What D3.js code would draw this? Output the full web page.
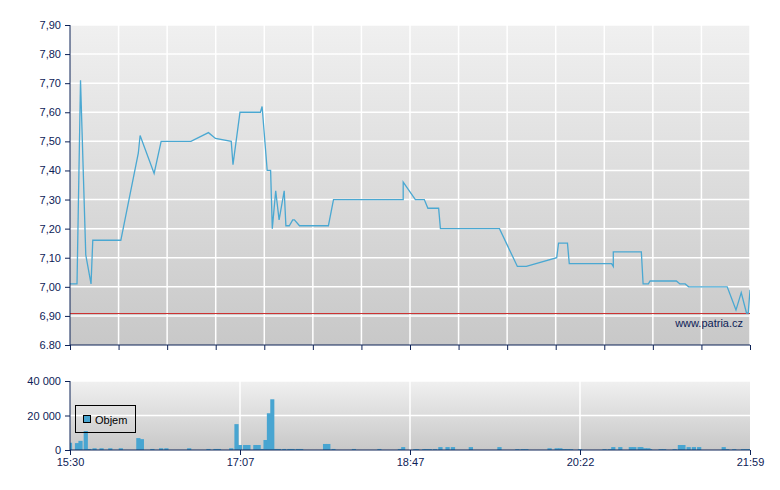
<!DOCTYPE html>
<html>
<head>
<meta charset="utf-8">
<script src="https://cdn.jsdelivr.net/npm/d3@7"></script>
<style>
  body { margin: 0; background: #fff; }
  text { font-family: "Liberation Sans", Arial, sans-serif; }
</style>
</head>
<body>
<div id="chart"></div>
<script>
// price series (time, price)
const priceTimes = ["15:30","15:34","15:36","15:39","15:42","15:43","15:59","16:09","16:10","16:18",
  "16:22","16:39","16:49","16:53","17:02","17:03","17:07","17:19","17:20","17:23",
  "17:25","17:26","17:28","17:30","17:33","17:34","17:36","17:38","17:39","17:42",
  "17:59","18:02","18:43","18:43","18:50","18:55","18:57","19:03","19:04","19:37",
  "19:47","19:52","20:09","20:10","20:15","20:16","20:40","20:41","20:41","20:57",
  "20:58","21:01","21:02","21:17","21:19","21:22","21:24","21:46","21:51","21:54",
  "21:57","21:58","21:59"];
const priceValues = [7.01,7.01,7.71,7.11,7.01,7.16,7.16,7.46,7.52,7.39,
  7.50,7.50,7.53,7.51,7.50,7.42,7.60,7.60,7.62,7.40,
  7.40,7.20,7.33,7.23,7.33,7.21,7.21,7.23,7.23,7.21,
  7.21,7.30,7.30,7.36,7.30,7.30,7.27,7.27,7.20,7.20,
  7.07,7.07,7.10,7.15,7.15,7.08,7.08,7.07,7.12,7.12,
  7.01,7.01,7.02,7.02,7.01,7.01,7.00,7.00,6.92,6.98,
  6.91,6.91,6.99];
const refPrice = 6.91;

// volume series (time, shares)
const volTimes = ["15:30","15:34","15:36","15:39","15:41","15:44","15:48","15:53","15:59","16:09",
  "16:11","16:17","16:22","16:25","16:38","16:49","16:53","16:55","17:02","17:05",
  "17:07","17:10","17:12","17:16","17:18","17:20","17:22","17:24","17:26","17:28",
  "17:30","17:33","17:36","17:38","17:41","17:43","17:57","17:59","18:02","18:14",
  "18:29","18:41","18:43","18:50","18:51","18:55","18:56","18:58","19:01","19:04",
  "19:08","19:11","19:21","19:37","19:47","19:50","19:52","20:05","20:09","20:11",
  "20:13","20:15","20:17","20:22","20:36","20:39","20:41","20:45","20:51","20:53",
  "20:56","20:57","20:59","21:01","21:02","21:08","21:10","21:16","21:19","21:21",
  "21:24","21:27","21:30","21:44","21:46","21:50","21:55","21:57","21:59"];
const volValues = [4200,4000,5300,11000,600,1000,1000,1000,1000,6900,
  6300,600,1000,1000,1000,600,600,600,1000,15000,
  2900,2900,2900,2900,2900,600,5800,21300,29400,600,
  600,600,600,600,600,600,3500,3500,600,600,
  600,600,1700,500,500,500,500,500,500,1700,
  1700,1700,1700,1700,500,500,500,1000,1000,1000,
  500,500,500,500,500,500,1700,1700,1700,1700,
  1700,1700,1000,1000,500,500,500,500,2900,2900,
  1700,1700,1700,1700,500,500,500,500,500];

const timeTicks = ["15:30","17:07","18:47","20:22","21:59"];
const priceTicks = [6.8,6.9,7.0,7.1,7.2,7.3,7.4,7.5,7.6,7.7,7.8,7.9];
const priceTickLabels = ["6.80","6,90","7,00","7,10","7,20","7,30","7,40","7,50","7,60","7,70","7,80","7,90"];
const volTicks = [0,20000,40000];
const volTickLabels = ["0","20 000","40 000"];

var W = 780, H = 490;
var left = 70, right = 750;
var pTop = 25, pBottom = 345;
var vTop = 381, vBottom = 450;
var axisColor = "#0d2257";
var barColor = "#48a5d1";

function toMin(s) {
	var p = s.split(":");
	return (+p[0] - 15) * 60 + (+p[1]) - 30;
}

var svg = d3.select("#chart").append("svg").attr("width", W).attr("height", H);

var defs = svg.append("defs");
var grad = defs.append("linearGradient").attr("id", "bg").attr("x1", 0).attr("y1", 0).attr("x2", 0).attr("y2", 1);
grad.append("stop").attr("offset", "0%").attr("stop-color", "#f0f0f0");
grad.append("stop").attr("offset", "100%").attr("stop-color", "#c8c8c8");
defs.append("clipPath").attr("id", "clipP").append("rect")
	.attr("x", left).attr("y", pTop).attr("width", right - left).attr("height", pBottom - pTop);
defs.append("clipPath").attr("id", "clipV").append("rect")
	.attr("x", left).attr("y", vTop).attr("width", right - left).attr("height", vBottom - vTop);

// time axis: labels sit at equal steps
var x = d3.scaleLinear()
	.domain(timeTicks.map(toMin))
	.range(timeTicks.map(function (d, i) { return left + i * (right - left) / (timeTicks.length - 1); }));

var y = d3.scaleLinear().domain([6.8, 7.9]).range([pBottom, pTop]);
var yv = d3.scaleLinear().domain([0, 40000]).range([vBottom, vTop]);

// price panel background + grid
svg.append("rect").attr("x", left).attr("y", pTop).attr("width", right - left).attr("height", pBottom - pTop)
	.attr("fill", "url(#bg)");

var gridX = d3.scaleLinear().domain([0, 14]).range([left, right]);
svg.append("g").selectAll("line").data(d3.range(1, 15)).enter().append("line")
	.attr("x1", function (d) { return gridX(d); }).attr("x2", function (d) { return gridX(d); })
	.attr("y1", pTop).attr("y2", pBottom)
	.attr("stroke", "#fff").attr("stroke-width", 1.5);
svg.append("g").selectAll("line").data(priceTicks.slice(1)).enter().append("line")
	.attr("x1", left).attr("x2", right)
	.attr("y1", function (d) { return y(d); }).attr("y2", function (d) { return y(d); })
	.attr("stroke", "#fff").attr("stroke-width", 1.5);

// reference line (previous close)
svg.append("line").attr("x1", left).attr("x2", right)
	.attr("y1", Math.round(y(refPrice)) + 0.5).attr("y2", Math.round(y(refPrice)) + 0.5)
	.attr("stroke", "#cc3333").attr("stroke-width", 1)
	.attr("shape-rendering", "crispEdges");

// price line
var line = d3.line()
	.x(function (d, i) { return x(toMin(priceTimes[i])); })
	.y(function (d) { return y(d); });
svg.append("path").datum(priceValues)
	.attr("clip-path", "url(#clipP)")
	.attr("d", line)
	.attr("fill", "none")
	.attr("stroke", "#4aa8d2")
	.attr("stroke-width", 1.3);

svg.append("text").attr("x", 743).attr("y", 327).attr("text-anchor", "end")
	.attr("font-size", 11).attr("fill", axisColor).text("www.patria.cz");

// price axes
var yAxis = svg.append("g").attr("transform", "translate(" + left + ",0)")
	.call(d3.axisLeft(y).tickValues(priceTicks).tickSize(5).tickPadding(4)
		.tickFormat(function (d, i) { return priceTickLabels[i]; }));
yAxis.select(".domain").attr("stroke", axisColor).attr("d", "M0," + pTop + "V" + pBottom);
yAxis.selectAll(".tick line").attr("stroke", axisColor);
yAxis.selectAll("text").attr("font-size", 11).attr("fill", axisColor).style("font-family", "Liberation Sans, Arial, sans-serif");

var xGridAxis = svg.append("g").attr("transform", "translate(0," + pBottom + ")")
	.call(d3.axisBottom(gridX).ticks(14).tickSize(5).tickFormat(""));
xGridAxis.select(".domain").attr("stroke", axisColor).attr("d", "M" + left + ",0H" + right);
xGridAxis.selectAll(".tick line").attr("stroke", axisColor);

// volume panel
svg.append("rect").attr("x", left).attr("y", vTop).attr("width", right - left).attr("height", vBottom - vTop)
	.attr("fill", "url(#bg)");
svg.append("g").selectAll("line").data(timeTicks.slice(1, -1)).enter().append("line")
	.attr("x1", function (d) { return x(toMin(d)); }).attr("x2", function (d) { return x(toMin(d)); })
	.attr("y1", vTop).attr("y2", vBottom)
	.attr("stroke", "#fff").attr("stroke-width", 1.5);
svg.append("g").selectAll("line").data(volTicks.slice(1)).enter().append("line")
	.attr("x1", left).attr("x2", right)
	.attr("y1", function (d) { return yv(d); }).attr("y2", function (d) { return yv(d); })
	.attr("stroke", "#fff").attr("stroke-width", 1.5);

var barMin = 2.4;
svg.append("g").attr("clip-path", "url(#clipV)")
	.selectAll("rect").data(volValues).enter().append("rect")
	.attr("x", function (d, i) { return x(toMin(volTimes[i]) - barMin / 2); })
	.attr("width", function (d, i) {
		var t = toMin(volTimes[i]);
		return x(t + barMin / 2) - x(t - barMin / 2);
	})
	.attr("y", function (d) { return yv(d); })
	.attr("height", function (d) { return vBottom - yv(d); })
	.attr("fill", barColor);

var vAxis = svg.append("g").attr("transform", "translate(" + left + ",0)")
	.call(d3.axisLeft(yv).tickValues(volTicks).tickSize(5).tickPadding(4)
		.tickFormat(function (d, i) { return volTickLabels[i]; }));
vAxis.select(".domain").attr("stroke", axisColor).attr("d", "M0," + vTop + "V" + vBottom);
vAxis.selectAll(".tick line").attr("stroke", axisColor);
vAxis.selectAll("text").attr("font-size", 11).attr("fill", axisColor).style("font-family", "Liberation Sans, Arial, sans-serif");

var tAxis = svg.append("g").attr("transform", "translate(0," + vBottom + ")")
	.call(d3.axisBottom(x).tickValues(timeTicks.map(toMin)).tickSize(5).tickPadding(3)
		.tickFormat(function (d, i) { return timeTicks[i]; }));
tAxis.select(".domain").attr("stroke", axisColor).attr("d", "M" + left + ",0H" + right);
tAxis.selectAll(".tick line").attr("stroke", axisColor);
tAxis.selectAll("text").attr("font-size", 11).attr("fill", axisColor).style("font-family", "Liberation Sans, Arial, sans-serif");

// legend
var lg = svg.append("g");
lg.append("rect").attr("x", 75.5).attr("y", 405.5).attr("width", 60).attr("height", 27)
	.attr("fill", "none").attr("stroke", "#000").attr("stroke-width", 1);
lg.append("rect").attr("x", 83.5).attr("y", 415.5).attr("width", 7).attr("height", 7)
	.attr("fill", barColor).attr("stroke", "#000").attr("stroke-width", 1);
lg.append("text").attr("x", 95).attr("y", 424).attr("font-size", 11).attr("fill", "#000").text("Objem");
</script>
</body>
</html>
